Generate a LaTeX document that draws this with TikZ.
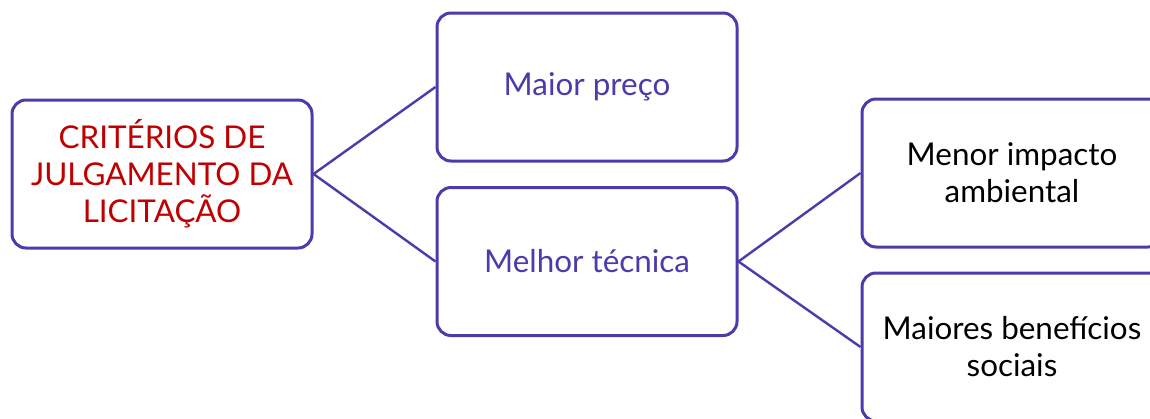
\documentclass[tikz,border=0pt]{standalone}
\usepackage{fontspec}
\setmainfont{Lato}
\usetikzlibrary{positioning}
\definecolor{roxo}{HTML}{4B3BAB}
\definecolor{vermelho}{HTML}{C00000}
\tikzset{
  caixa/.style={draw=roxo, line width=1.5pt, rounded corners=7pt, fill=white,
    minimum width=150pt, minimum height=74pt, align=center,
    font=\fontsize{15.7}{18.5}\selectfont},
  liga/.style={draw=roxo, line width=1.2pt}
}

\begin{document}
\begin{tikzpicture}[x=0.5pt,y=-0.5pt]
  \useasboundingbox (0,0) rectangle (1150,418);
  \clip (0,0) rectangle (1150,418);

  \node[caixa, text=vermelho] (crit) at (162,174) {CRITÉRIOS DE\\JULGAMENTO DA\\LICITAÇÃO};
  \node[caixa, text=roxo] (preco) at (587,87) {Maior preço};
  \node[caixa, text=roxo] (tecnica) at (587,261.5) {Melhor técnica};
  \node[caixa] (impacto) at (1012,173) {Menor impacto\\ambiental};
  \node[caixa] (sociais) at (1012,347) {Maiores benefícios\\sociais};

  % ligacoes
  \draw[liga] (crit.east) -- (preco.west);
  \draw[liga] (crit.east) -- (tecnica.west);
  \draw[liga] (tecnica.east) -- (impacto.west);
  \draw[liga] (tecnica.east) -- (sociais.west);
\end{tikzpicture}
\end{document}
